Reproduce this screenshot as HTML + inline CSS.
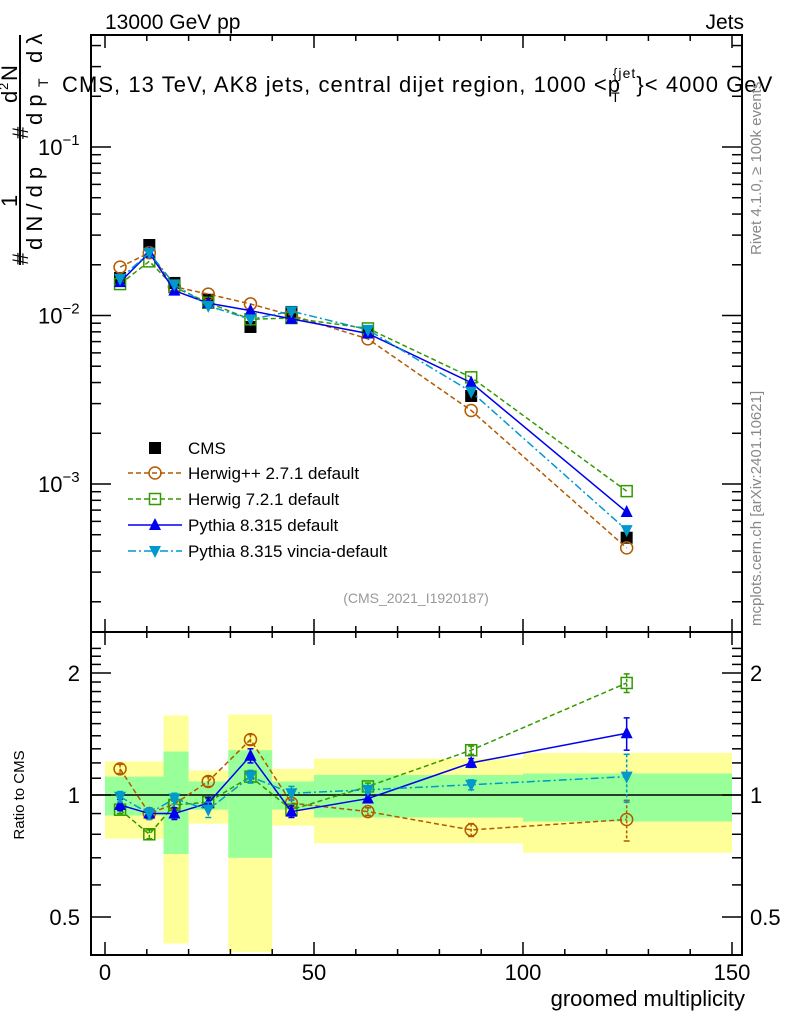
<!DOCTYPE html>
<html><head><meta charset="utf-8"><style>
body{margin:0;background:#fff;}
svg{display:block;font-family:"Liberation Sans",sans-serif;}
</style></head><body>
<svg id="c" width="786" height="1024" viewBox="0 0 786 1024" xmlns="http://www.w3.org/2000/svg">
<g id="bands"></g>
<g id="grid"></g>
<g id="series"></g>
<rect x="91" y="35" width="651" height="920" fill="none" stroke="#000" stroke-width="2"/>
<line x1="91" y1="632" x2="742" y2="632" stroke="#000" stroke-width="2"/>
<text x="105" y="29" font-size="21">13000 GeV pp</text>
<text x="744" y="29" font-size="21" text-anchor="end">Jets</text>
<text x="62" y="92" font-size="22" letter-spacing="1.05">CMS, 13 TeV, AK8 jets, central dijet region, 1000 &lt;p<tspan font-size="14" dy="10" dx="-10">T</tspan><tspan font-size="14" dy="-24" dx="-8">{jet</tspan><tspan dy="14">}&lt; 4000 GeV</tspan></text>
<g transform="translate(20,265) rotate(-90)" font-size="22">
<line x1="0" y1="0" x2="230" y2="0" stroke="#000" stroke-width="2"/>
<text x="0" y="8">#</text>
<text x="58" y="-3">1</text>
<text x="15" y="22">d N / d p</text>
<text x="126" y="8">#</text>
<text x="140" y="22">d p</text>
<text x="178" y="28" font-size="14">T</text>
<text x="162" y="-3">d</text>
<text x="175" y="-12" font-size="13">2</text>
<text x="184" y="-3">N</text>
<text x="202" y="22">d λ</text>
</g>
<text font-size="15" fill="#888" transform="translate(761,255) rotate(-90)">Rivet 4.1.0, ≥ 100k events</text>
<text font-size="15" fill="#888" transform="translate(761,626) rotate(-90)">mcplots.cern.ch [arXiv:2401.10621]</text>
<text x="416" y="603" font-size="14" fill="#999" text-anchor="middle">(CMS_2021_I1920187)</text>
<text x="24" y="795" font-size="15" text-anchor="middle" transform="rotate(-90 24 795)">Ratio to CMS</text>
<text x="745" y="1006" font-size="22" text-anchor="end">groomed multiplicity</text>
<g id="legend"></g>
</svg>
<script>
const binEdges=[0,7,14,20,29.5,40,50,100,150];
const yellowHi=[1.21,1.21,1.57,1.15,1.58,1.16,1.23,1.27];
const yellowLo=[0.78,0.78,0.43,0.85,0.41,0.84,0.76,0.72];
const greenHi=[1.11,1.11,1.28,1.08,1.29,1.08,1.12,1.13];
const greenLo=[0.89,0.89,0.715,0.92,0.70,0.92,0.88,0.86];
const xs=[3.6,10.6,16.6,24.7,34.8,44.6,62.9,87.6,124.8];
const cms=[0.0167,0.0262,0.0156,0.0124,0.00855,0.0105,0.00798,0.00333,0.00048];
const rHerwigPP=[1.16,0.90,0.95,1.08,1.37,0.955,0.91,0.82,0.87];
const rHerwig7=[0.92,0.80,0.945,0.96,1.11,0.92,1.05,1.29,1.89];
const rPythia=[0.945,0.90,0.90,0.955,1.25,0.91,0.98,1.2,1.42];
const rVincia=[0.99,0.90,0.98,0.92,1.11,1.01,1.03,1.06,1.11];
const errHerwigPP=[0.03,0.02,0.02,0.03,0.04,0.02,0.02,0.03,0.1];
const errHerwig7=[0.02,0.02,0.02,0.02,0.03,0.02,0.02,0.03,0.1];
const errPythia=[0.03,0.02,0.03,0.03,0.05,0.03,0.02,0.03,0.13];
const errVincia=[0.03,0.03,0.03,0.04,0.04,0.04,0.02,0.03,0.15];
const xTicks=[0,50,100,150];
const ratioTicks=[0.5,1,2];
const logTicks=[-3,-2,-1];

const NS="http://www.w3.org/2000/svg";
const X=v=>105+v*(732-105)/150;
const YM=v=>147-(Math.log10(v)+1)*168.5;
const YR=r=>795-Math.log2(r)*122;
function mk(tag,at,parent){const e=document.createElementNS(NS,tag);for(const k in at)e.setAttribute(k,at[k]);parent.appendChild(e);return e;}
const bands=document.getElementById('bands'),grid=document.getElementById('grid'),ser=document.getElementById('series'),leg=document.getElementById('legend');

for(let i=0;i<yellowHi.length;i++){
 const x0=X(binEdges[i]),x1=X(binEdges[i+1]);
 let r=mk('rect',{x:x0,y:YR(yellowHi[i]),width:x1-x0,height:YR(yellowLo[i])-YR(yellowHi[i]),fill:'#ffff99'},bands);
 
 
 r=mk('rect',{x:x0,y:YR(greenHi[i]),width:x1-x0,height:YR(greenLo[i])-YR(greenHi[i]),fill:'#99ff99'},bands);
 
 
}
mk('line',{x1:91,x2:742,y1:YR(1),y2:YR(1),stroke:'#000','stroke-width':1.5},grid);

for(let v=0;v<=150;v+=10){
 const maj=v%50===0,x=X(v);
 for(const yb of [632,955]) mk('line',{x1:x,x2:x,y1:yb,y2:yb-(maj?13:6),stroke:'#000','stroke-width':1.5},grid);
 for(const yt of [35,632]) mk('line',{x1:x,x2:x,y1:yt,y2:yt+(maj?13:6),stroke:'#000','stroke-width':1.5},grid);
}
xTicks.forEach(v=>{const t=mk('text',{x:X(v),y:980,'font-size':22,'text-anchor':'middle'},grid);t.textContent=v;
 
 });
for(let d=-4;d<=-1;d++){for(let m=1;m<=9;m++){const v=m*Math.pow(10,d);const y=YM(v);if(y<35||y>632)continue;
 const L=m===1?20:10;mk('line',{x1:91,x2:91+L,y1:y,y2:y,stroke:'#000','stroke-width':1.5},grid);mk('line',{x1:742,x2:742-L,y1:y,y2:y,stroke:'#000','stroke-width':1.5},grid);}}
logTicks.forEach(p=>{const t=mk('text',{x:38,y:YM(Math.pow(10,p))+8,'font-size':22},grid);
 t.innerHTML='10<tspan font-size="15" dy="-10">−'+(-p)+'</tspan>';
 
 });
for(let r=0.4;r<=2.4;r+=0.1){const y=YR(r);if(y<634||y>953)continue;const maj=[0.5,1,2].some(q=>Math.abs(q-r)<1e-6);
 const L=maj?20:10;mk('line',{x1:91,x2:91+L,y1:y,y2:y,stroke:'#000','stroke-width':1.5},grid);mk('line',{x1:742,x2:742-L,y1:y,y2:y,stroke:'#000','stroke-width':1.5},grid);}
ratioTicks.forEach(r=>{for(const [x,a] of [[80,'end'],[750,'start']]){const t=mk('text',{x:x,y:YR(r)+8,'font-size':22,'text-anchor':a},grid);t.textContent=r;
 
 }});

function marker(type,x,y,col,parent){
 if(type==='sq')return mk('rect',{x:x-6,y:y-6,width:12,height:12,fill:'#000'},parent);
 if(type==='circ')return mk('circle',{cx:x,cy:y,r:6,fill:'none',stroke:col,'stroke-width':1.5},parent);
 if(type==='osq')return mk('rect',{x:x-5.5,y:y-5.5,width:11,height:11,fill:'none',stroke:col,'stroke-width':1.5},parent);
 if(type==='up')return mk('polygon',{points:`${x},${y-7} ${x-6},${y+5} ${x+6},${y+5}`,fill:col},parent);
 return mk('polygon',{points:`${x},${y+7} ${x-6},${y-5} ${x+6},${y-5}`,fill:col},parent);
}
const models=[
 {name:'herwigpp',label:'Herwig++ 2.7.1 default',r:rHerwigPP,e:errHerwigPP,col:'#b35900',m:'circ',dash:'5,3'},
 {name:'herwig7',label:'Herwig 7.2.1 default',r:rHerwig7,e:errHerwig7,col:'#339900',m:'osq',dash:'5,3'},
 {name:'pythia',label:'Pythia 8.315 default',r:rPythia,e:errPythia,col:'#0000ee',m:'up',dash:''},
 {name:'vincia',label:'Pythia 8.315 vincia-default',r:rVincia,e:errVincia,col:'#0099cc',m:'dn',dash:'8,3,2,3'}];
cms.forEach((v,i)=>{const m=marker('sq',X(xs[i]),YM(v),'#000',ser);
 
 });
models.forEach(md=>{
 const ptsM=xs.map((x,i)=>X(x)+','+YM(cms[i]*md.r[i])).join(' ');
 const ptsR=xs.map((x,i)=>X(x)+','+YR(md.r[i])).join(' ');
 for(const p of [ptsM,ptsR]){const l=mk('polyline',{points:p,fill:'none',stroke:md.col,'stroke-width':1.5,'stroke-dasharray':md.dash},ser);
  
  }
 xs.forEach((x,i)=>{
  const px=X(x);
  const yh=YR(md.r[i]+md.e[i]),yl=YR(md.r[i]-md.e[i]);
  mk('line',{x1:px,x2:px,y1:yh,y2:yl,stroke:md.col,'stroke-width':1.5,'stroke-dasharray':md.dash?'3,2':''},ser);
  mk('line',{x1:px-3,x2:px+3,y1:yh,y2:yh,stroke:md.col,'stroke-width':1.5},ser);
  mk('line',{x1:px-3,x2:px+3,y1:yl,y2:yl,stroke:md.col,'stroke-width':1.5},ser);
  let m=marker(md.m,px,YM(cms[i]*md.r[i]),md.col,ser);
  
  
  m=marker(md.m,px,YR(md.r[i]),md.col,ser);
  
  
 });
});
const ly=[448,473,499,525,551];
let t=mk('text',{x:188,y:ly[0]+6,'font-size':17},leg);t.textContent='CMS';


marker('sq',155,ly[0],'#000',leg);
models.forEach((md,k)=>{const y=ly[k+1];
 mk('line',{x1:128,x2:182,y1:y,y2:y,stroke:md.col,'stroke-width':1.5,'stroke-dasharray':md.dash},leg);
 marker(md.m,155,y,md.col,leg);
 const tt=mk('text',{x:188,y:y+6,'font-size':17},leg);tt.textContent=md.label;
 
 
});
</script>
</body></html>
